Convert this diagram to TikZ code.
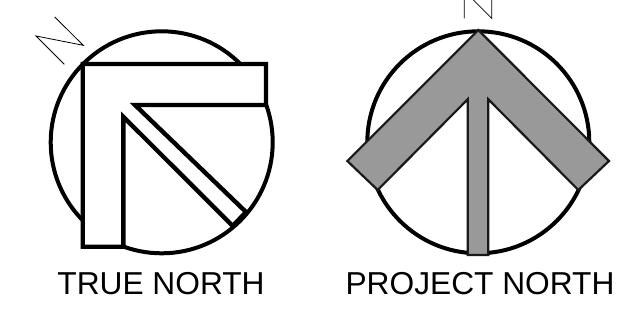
\documentclass[tikz,border=0pt]{standalone}
\usepackage{fontspec}
\setmainfont{Liberation Sans}
\definecolor{bandgray}{gray}{0.6}
\tikzset{
  ring/.style={draw=black,line width=4pt},
  truearrow/.style={draw=black,fill=white,line width=4.4pt,miter limit=10},
  projarrow/.style={draw=black!90,fill=bandgray,line width=2.2pt,miter limit=10},
  northmark/.style={draw=black,line width=0.8pt,line join=miter,miter limit=10},
  caption/.style={inner sep=0pt,font=\fontsize{31.7}{34}\selectfont,text=black}
}
\begin{document}
\begin{tikzpicture}[x=1pt,y=-1pt]
\path[use as bounding box] (0,0) rectangle (621,325);
\begin{scope}
\clip (0,0) rectangle (621,325);
% True north
\draw[ring] (161.7,142.3) circle[radius=111];
\draw[truearrow] (82.7,64) -- (266,64) -- (266,105) -- (135,105) -- (246,212) -- (232.7,226) -- (123.3,116.7) -- (123.3,246.7) -- (82.7,246.7) -- cycle;
\draw[northmark] (64.3,64.3) -- (36,36) -- (83.3,45.3) -- (54.7,17);
% Project north
\draw[ring] (478.3,142.3) circle[radius=111];
\draw[projarrow] (478.3,30) -- (609,161) -- (578.3,190) -- (488.3,99.3) -- (488.3,255) -- (467.7,255) -- (467.7,99.3) -- (377.7,190) -- (347.3,161) -- cycle;
\draw[northmark] (464.3,18.3) -- (464.3,-9) -- (491.7,18.3) -- (491.7,-9);
\end{scope}
\node[caption,anchor=base] (trueLabel) at (161,294) {TRUE NORTH};
\node[caption,anchor=base] (projectLabel) at (480,294) {PROJECT NORTH};
\end{tikzpicture}
\end{document}
